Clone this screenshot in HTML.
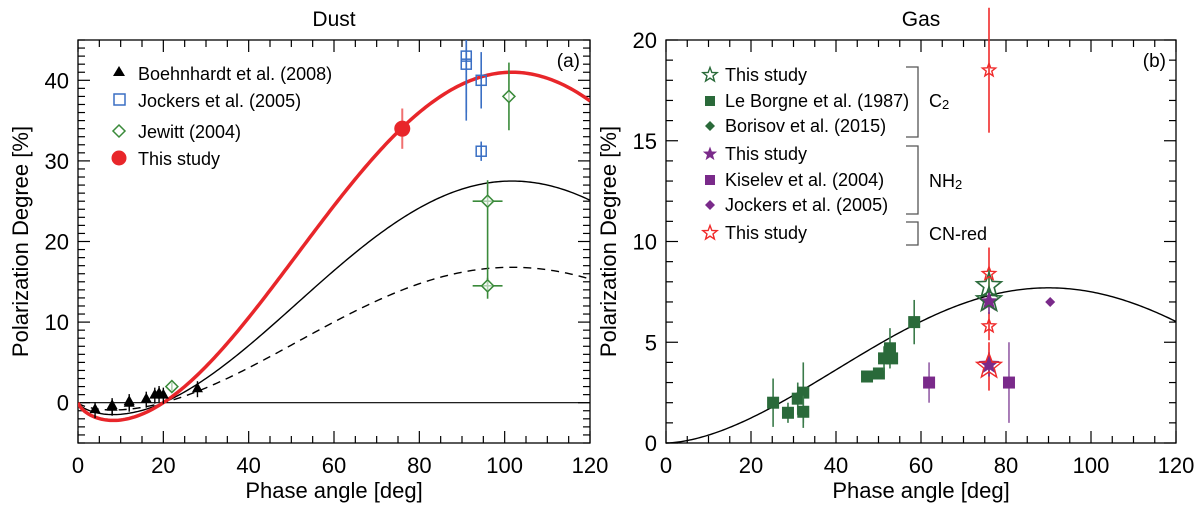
<!DOCTYPE html>
<html><head><meta charset="utf-8"><style>
html,body{margin:0;padding:0;background:#fff;}
svg{display:block;font-family:"Liberation Sans",sans-serif;}
</style></head><body>
<svg id="chart" width="1200" height="509" viewBox="0 0 1200 509">
<defs><clipPath id="clipL"><rect x="78" y="40" width="512" height="403"/></clipPath></defs>
<g id="L"></g>
<g id="R"></g>
</svg>
<script>
// ---- Dust panel data ----
const boehnX = [4, 8, 8, 12, 12, 16, 18, 19, 20, 28];
const boehnY = [-0.8, -0.5, -0.3, 0, 0.2, 0.5, 1.0, 1.2, 1.0, 1.8];
const jockX = [91, 91, 94.5, 94.5];
const jockY = [43, 42, 40, 31.2];
const jockErr = [7, 7, 3.5, 1.2];
const jewX = [22, 101, 96, 96];
const jewY = [2, 38, 25, 14.5];
const jewErrLo = [0.5, 4.2, 10.5, 1.6];
const jewErrHi = [0.5, 4.2, 2.6, 1.0];
const jewXErr = [0, 0, 3.5, 3.5];
const dustStudyX = [76];
const dustStudyY = [34];
const dustStudyErr = [2.5];
const dustPeaks = [41, 27.5, 16.8];
const dustXTicks = [0, 20, 40, 60, 80, 100, 120];
const dustYTicks = [0, 10, 20, 30, 40];
// ---- Gas panel data ----
const lbX = [25.2, 28.7, 31, 32.3, 32.3, 47.3, 50.1, 51.3, 52.7, 53.2, 58.4];
const lbY = [2.0, 1.5, 2.2, 2.5, 1.55, 3.3, 3.45, 4.2, 4.7, 4.2, 6.0];
const lbErr = [1.2, 0.5, 0.8, 1.5, 0.8, 0, 0, 0.6, 1.0, 0, 1.1];
const kisX = [61.9, 80.7];
const kisY = [3.0, 3.0];
const kisErr = [1.0, 2.0];
const jockGasX = [90.4];
const jockGasY = [7.0];
const c2StarY = [7.8, 7.1];
const nh2StarY = [7.0, 3.9];
const cnStarY = [8.4, 5.8, 3.8, 18.5];
const cnStarErr = [1.3, 0.7, 1.2, 3.1];
const starX = 76;
const gasPeak = [7.7];
const gasXTicks = [0, 20, 40, 60, 80, 100, 120];
const gasYTicks = [0, 5, 10, 15, 20];

const NS = 'http://www.w3.org/2000/svg';
function mk(parent, tag, attrs, name) {
  const e = document.createElementNS(NS, tag);
  for (const k in attrs) e.setAttribute(k, attrs[k]);
  
  
  parent.appendChild(e);
  return e;
}
function txt(parent, x, y, s, size, anchor, name, extra) {
  const t = mk(parent, 'text', Object.assign({x: x, y: y, 'font-size': size, 'text-anchor': anchor || 'start', fill: '#000'}, extra || {}), name);
  t.textContent = s;
  return t;
}
function model(a, a0, c1) {
  const r = Math.PI / 180;
  const s = Math.sin(a * r);
  return Math.pow(Math.max(s, 0), c1) * Math.sin((a - a0) * r);
}
function modelMax(a0, c1) {
  let m = 0; for (let a = 0; a <= 180; a += 0.25) m = Math.max(m, model(a, a0, c1)); return m;
}
function starPath(cx, cy, R) {
  const r = R * 0.42; let d = '';
  for (let i = 0; i < 10; i++) {
    const ang = -Math.PI / 2 + i * Math.PI / 5; const rr = i % 2 ? r : R;
    d += (i ? 'L' : 'M') + (cx + rr * Math.cos(ang)).toFixed(2) + ',' + (cy + rr * Math.sin(ang)).toFixed(2);
  }
  return d + 'Z';
}
function axes(g, X0, X1, Y0, Y1, xmin, xmax, ymin, ymax, xTicks, yTicks, xMinor, yMinor, title, panel) {
  const sx = v => X0 + (v - xmin) / (xmax - xmin) * (X1 - X0);
  const sy = v => Y1 - (v - ymin) / (ymax - ymin) * (Y1 - Y0);
  mk(g, 'rect', {x: X0, y: Y0, width: X1 - X0, height: Y1 - Y0, fill: 'none', stroke: '#000', 'stroke-width': 1.3}, 'plot-frame');
  for (let v = xmin; v <= xmax + 1e-6; v += xMinor) {
    const maj = xTicks.some(t => Math.abs(t - v) < 1e-6); const L = maj ? 12 : 7;
    mk(g, 'line', {x1: sx(v), x2: sx(v), y1: Y1, y2: Y1 - L, stroke: '#000', 'stroke-width': 1.2}, 'x-tick');
    mk(g, 'line', {x1: sx(v), x2: sx(v), y1: Y0, y2: Y0 + L, stroke: '#000', 'stroke-width': 1.2}, 'x-tick-top');
  }
  for (let v = ymin; v <= ymax + 1e-6; v += yMinor) {
    const maj = yTicks.some(t => Math.abs(t - v) < 1e-6); const L = maj ? 12 : 7;
    mk(g, 'line', {x1: X0, x2: X0 + L, y1: sy(v), y2: sy(v), stroke: '#000', 'stroke-width': 1.2}, 'y-tick');
    mk(g, 'line', {x1: X1, x2: X1 - L, y1: sy(v), y2: sy(v), stroke: '#000', 'stroke-width': 1.2}, 'y-tick-right');
  }
  xTicks.forEach(v => txt(g, sx(v), Y1 + 30, String(v), 22, 'middle', 'x-tick-label'));
  yTicks.forEach(v => txt(g, X0 - 9, sy(v) + 8, String(v), 22, 'end', 'y-tick-label'));
  txt(g, (X0 + X1) / 2, 498, 'Phase angle [deg]', 22, 'middle', 'x-axis-title');
  txt(g, (X0 + X1) / 2, 26, title, 21, 'middle', 'panel-title');
  txt(g, X1 - 10, Y0 + 27, panel, 19, 'end', 'panel-label');
  const yt = txt(g, 0, 0, 'Polarization Degree [%]', 22, 'middle', 'y-axis-title');
  yt.setAttribute('transform', 'translate(' + (X0 - 50) + ',' + ((Y0 + Y1) / 2) + ') rotate(-90)');
  return {sx, sy};
}
function curve(g, sx, sy, a0, c1, peak, xmax, attrs, name) {
  const m = modelMax(a0, c1); let d = '';
  for (let a = 0; a <= xmax; a += 0.5) d += (a ? 'L' : 'M') + sx(a).toFixed(2) + ',' + sy(peak / m * model(a, a0, c1)).toFixed(2);
  mk(g, 'path', Object.assign({d: d, fill: 'none'}, attrs), name);
}
function vErr(g, sx, sy, x, y, e, col, w, name, eHi) {
  const hi = eHi === undefined ? e : eHi;
  if (e > 0 || hi > 0) mk(g, 'line', {x1: sx(x), x2: sx(x), y1: sy(y - e), y2: sy(y + hi), stroke: col, 'stroke-width': w || 1.6}, name);
}

// ===== Dust panel =====
const L = document.getElementById('L');
const A = axes(L, 78, 590, 40, 443, 0, 120, -5, 45, dustXTicks, dustYTicks, 5, 1, 'Dust', '(a)');
const LC = mk(L, 'g', {'clip-path': 'url(#clipL)'}, 'dust-plot-area');
mk(LC, 'line', {x1: A.sx(0), x2: A.sx(120), y1: A.sy(0), y2: A.sy(0), stroke: '#000', 'stroke-width': 1.2}, 'zero-line');
curve(LC, A.sx, A.sy, 20, 0.7, dustPeaks[1], 120, {stroke: '#000', 'stroke-width': 1.4}, 'model-curve-solid');
curve(LC, A.sx, A.sy, 20, 0.7, dustPeaks[2], 120, {stroke: '#000', 'stroke-width': 1.4, 'stroke-dasharray': '8,6'}, 'model-curve-dashed');
curve(LC, A.sx, A.sy, 20, 0.7, dustPeaks[0], 120, {stroke: '#e8262a', 'stroke-width': 3.5}, 'model-curve-this-study');
boehnX.forEach((x, i) => {
  const cx = A.sx(x), cy = A.sy(boehnY[i]);
  mk(LC, 'line', {x1: cx, x2: cx, y1: cy - 7, y2: cy + 9, stroke: '#000', 'stroke-width': 1.4}, 'boehnhardt-error');
  mk(LC, 'path', {d: `M${cx},${cy - 6}L${cx + 5.5},${cy + 4}L${cx - 5.5},${cy + 4}Z`, fill: '#000'}, 'boehnhardt-point');
});
jockX.forEach((x, i) => {
  vErr(LC, A.sx, A.sy, x, jockY[i], jockErr[i], '#3a6fc4', 1.6, 'jockers-error');
  mk(LC, 'rect', {x: A.sx(x) - 5, y: A.sy(jockY[i]) - 5, width: 10, height: 10, fill: 'none', stroke: '#3a6fc4', 'stroke-width': 1.5}, 'jockers-point');
});
jewX.forEach((x, i) => {
  const cx = A.sx(x), cy = A.sy(jewY[i]);
  vErr(LC, A.sx, A.sy, x, jewY[i], jewErrLo[i], '#3a8a3a', 1.6, 'jewitt-error', jewErrHi[i]);
  if (jewXErr[i] > 0) mk(LC, 'line', {x1: A.sx(x - jewXErr[i]), x2: A.sx(x + jewXErr[i]), y1: cy, y2: cy, stroke: '#3a8a3a', 'stroke-width': 1.6}, 'jewitt-xerror');
  mk(LC, 'path', {d: `M${cx},${cy - 6}L${cx + 6},${cy}L${cx},${cy + 6}L${cx - 6},${cy}Z`, fill: '#fff', 'fill-opacity': 0.6, stroke: '#3a8a3a', 'stroke-width': 1.5}, 'jewitt-point');
});
dustStudyX.forEach((x, i) => {
  vErr(LC, A.sx, A.sy, x, dustStudyY[i], dustStudyErr[i], '#f07070', 2, 'this-study-error');
  mk(LC, 'circle', {cx: A.sx(x), cy: A.sy(dustStudyY[i]), r: 8, fill: '#e8262a'}, 'this-study-point');
});
// legend
const lg = mk(L, 'g', {}, 'dust-legend');
mk(lg, 'path', {d: 'M119,66L125,76L113,76Z', fill: '#000'}, 'legend-marker-boehnhardt');
txt(lg, 138, 80, 'Boehnhardt et al. (2008)', 18, 'start', 'legend-label');
mk(lg, 'rect', {x: 114, y: 94, width: 11, height: 11, fill: 'none', stroke: '#3a6fc4', 'stroke-width': 1.5}, 'legend-marker-jockers');
txt(lg, 138, 107, 'Jockers et al. (2005)', 18, 'start', 'legend-label');
mk(lg, 'path', {d: 'M119,125L125,131L119,137L113,131Z', fill: 'none', stroke: '#3a8a3a', 'stroke-width': 1.5}, 'legend-marker-jewitt');
txt(lg, 138, 138, 'Jewitt (2004)', 18, 'start', 'legend-label');
mk(lg, 'circle', {cx: 119, cy: 158, r: 7.5, fill: '#e8262a'}, 'legend-marker-this-study');
txt(lg, 138, 165, 'This study', 18, 'start', 'legend-label');

// ===== Gas panel =====
const R = document.getElementById('R');
const B = axes(R, 666, 1176, 40, 443, 0, 120, 0, 20, gasXTicks, gasYTicks, 5, 1, 'Gas', '(b)');
curve(R, B.sx, B.sy, 0, 0.7, gasPeak[0], 120, {stroke: '#000', 'stroke-width': 1.4}, 'gas-model-curve');
const green = '#2a6a3a', purple = '#7a2a8a', red = '#f02a2a';
lbX.forEach((x, i) => {
  vErr(R, B.sx, B.sy, x, lbY[i], lbErr[i], '#3a7a4a', 1.6, 'leborgne-error');
  mk(R, 'rect', {x: B.sx(x) - 6, y: B.sy(lbY[i]) - 6, width: 12, height: 12, fill: green}, 'leborgne-point');
});
kisX.forEach((x, i) => {
  vErr(R, B.sx, B.sy, x, kisY[i], kisErr[i], '#a070b0', 1.8, 'kiselev-error');
  mk(R, 'rect', {x: B.sx(x) - 6, y: B.sy(kisY[i]) - 6, width: 12, height: 12, fill: purple}, 'kiselev-point');
});
jockGasX.forEach((x, i) => {
  const cx = B.sx(x), cy = B.sy(jockGasY[i]);
  mk(R, 'path', {d: `M${cx},${cy - 5}L${cx + 5},${cy}L${cx},${cy + 5}L${cx - 5},${cy}Z`, fill: purple}, 'jockers-gas-point');
});
cnStarY.forEach((y, i) => vErr(R, B.sx, B.sy, starX, y, cnStarErr[i], red, 1.6, 'cn-star-error'));
vErr(R, B.sx, B.sy, starX, c2StarY[0], 0.8, '#3a8a4a', 1.6, 'c2-star-error');
nh2StarY.forEach((y, i) => vErr(R, B.sx, B.sy, starX, y, 0.6, purple, 1.6, 'nh2-star-error'));
nh2StarY.forEach(y => mk(R, 'path', {d: starPath(B.sx(starX), B.sy(y), 11), fill: purple}, 'nh2-star-point'));
c2StarY.forEach(y => mk(R, 'path', {d: starPath(B.sx(starX), B.sy(y), 13), fill: 'none', stroke: green, 'stroke-width': 1.6}, 'c2-star-point'));
cnStarY.forEach((y, i) => mk(R, 'path', {d: starPath(B.sx(starX), B.sy(y), i === 2 ? 13 : 7), fill: 'none', stroke: red, 'stroke-width': 1.4}, 'cn-star-point'));
// legend
const gl = mk(R, 'g', {}, 'gas-legend');
const rows = [
  ['star-o', green, 'This study', 75], ['sq', green, 'Le Borgne et al. (1987)', 101], ['dia', green, 'Borisov et al. (2015)', 126],
  ['star-f', purple, 'This study', 154], ['sq', purple, 'Kiselev et al. (2004)', 180], ['dia', purple, 'Jockers et al. (2005)', 205],
  ['star-o', red, 'This study', 233]
];
rows.forEach(r => {
  const cx = 710, cy = r[3];
  if (r[0] === 'star-o') mk(gl, 'path', {d: starPath(cx, cy, 7.5), fill: 'none', stroke: r[1], 'stroke-width': 1.4}, 'legend-marker-star');
  if (r[0] === 'star-f') mk(gl, 'path', {d: starPath(cx, cy, 7.5), fill: r[1]}, 'legend-marker-star');
  if (r[0] === 'sq') mk(gl, 'rect', {x: cx - 5, y: cy - 5, width: 10, height: 10, fill: r[1]}, 'legend-marker-square');
  if (r[0] === 'dia') mk(gl, 'path', {d: `M${cx},${cy - 5}L${cx + 5},${cy}L${cx},${cy + 5}L${cx - 5},${cy}Z`, fill: r[1]}, 'legend-marker-diamond');
  txt(gl, 725, cy + 6, r[2], 18, 'start', 'legend-label');
});
function bracket(y0, y1, label, ly, name) {
  mk(gl, 'path', {d: `M906,${y0}H918V${y1}H906`, fill: 'none', stroke: '#555', 'stroke-width': 1.3}, name);
  return txt(gl, 929, ly, label, 18, 'start', name + '-label');
}
bracket(67, 137, 'C', 107, 'c2-bracket');
txt(gl, 942, 109, '2', 13, 'start', 'c2-subscript');
bracket(146, 214, 'NH', 187, 'nh2-bracket');
txt(gl, 955, 189, '2', 13, 'start', 'nh2-subscript');
bracket(222, 245, 'CN-red', 240, 'cn-bracket');
</script>
</body></html>
